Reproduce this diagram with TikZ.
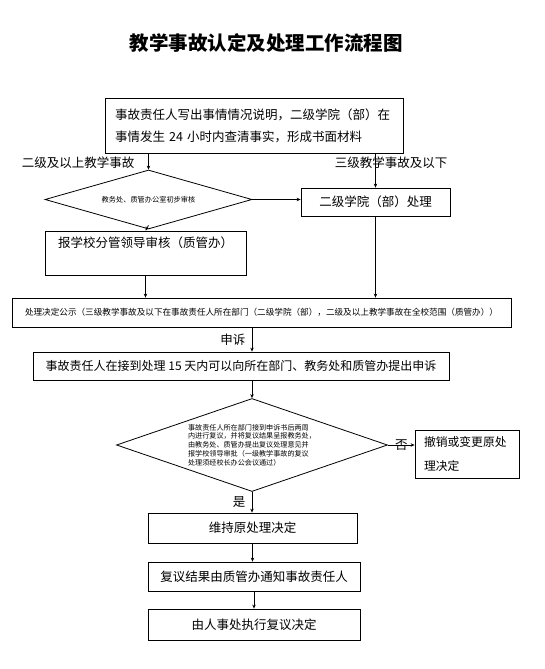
\documentclass[tikz,border=0pt]{standalone}
\usepackage{fontspec}
\setmainfont{Noto Sans CJK SC}
\usetikzlibrary{arrows.meta, shapes.geometric}

\begin{document}
\begin{tikzpicture}[x=1pt, y=-1pt, font=\fontsize{12.5}{22}\selectfont,
    box/.style={draw, line width=0.8pt, inner sep=0pt},
    choice/.style={draw, diamond, line width=0.8pt, inner sep=0pt},
    arr/.style={-{Stealth[length=4pt, width=3.5pt]}, line width=0.8pt}]
    \useasboundingbox (0,0) rectangle (545,669);

    % Title
    \node[font=\fontsize{19.5}{22}\selectfont\bfseries] (title) at (266,43) {教学事故认定及处理工作流程图};

    % Report
    \node[box, minimum width=298, minimum height=55, text width=278, align=left] (report) at (254,125.5)
        {事故责任人写出事情情况说明，二级学院（部）在\\事情发生 24 小时内查清事实，形成书面材料};
    \node (lvlhigh) at (78,163) {二级及以上教学事故};
    \node (lvllow) at (391,163) {三级教学事故及以下};

    % Two branches
    \node[choice, minimum width=207, minimum height=59, shape aspect=3.5, font=\fontsize{7.2}{8}\selectfont] (check) at (148.5,199.5) {教务处、质管办公室初步审核};
    \node[box, minimum width=149, minimum height=28] (college) at (375.5,202) {二级学院（部）处理};
    \node[box, minimum width=201, minimum height=44, align=center] (leader) at (145.5,253) {报学校分管领导审核（质管办）\\ \mbox{}};

    % Notice
    \node[box, minimum width=499, minimum height=29, font=\fontsize{8.6}{10}\selectfont] (notice) at (261.5,312.5)
        {处理决定公示（三级教学事故及以下在事故责任人所在部门（二级学院（部），二级及以上教学事故在全校范围（质管办））};

    % Appeal and review
    \node[box, minimum width=416, minimum height=28, font=\fontsize{12}{14}\selectfont] (appeal) at (241,366)
        {事故责任人在接到处理 15 天内可以向所在部门、教务处和质管办提出申诉};
    \node[choice, minimum width=271, minimum height=93, shape aspect=2.9, font=\fontsize{7.1}{8.8}\selectfont, align=left] (review) at (252,445)
        {事故责任人所在部门接到申诉书后两周\\内进行复议，并将复议结果呈报教务处，\\由教务处、质管办提出复议处理意见并\\报学校领导审批（一级教学事故的复议\\处理须经校长办公会议通过）};
    \node[box, minimum width=104, minimum height=48, text width=86, align=left, font=\fontsize{11.8}{24}\selectfont] (revoke) at (467,454) {撤销或变更原处\\理决定};

    % Outcome
    \node[box, minimum width=209, minimum height=30] (keep) at (252.5,528) {维持原处理决定};
    \node[box, minimum width=212, minimum height=29] (inform) at (254,576.5) {复议结果由质管办通知事故责任人};
    \node[box, minimum width=212, minimum height=31] (execute) at (254,624.5) {由人事处执行复议决定};

    % Connectors
    \draw[arr] (report.south -| check.north) -- (check.north);
    \draw[arr] (report.south -| college.north) -- (college.north);
    \draw[arr] (check.east) -- (check.east -| college.west);
    \draw[arr] ([yshift=4pt]check.south) -- (leader.north);
    \draw[arr] (leader.south) -- (leader.south |- notice.north);
    \draw[arr] (college.south) -- (college.south |- notice.north);
    \draw[arr] (notice.south -| review.north) -- node[left=3pt] {申诉} (review.north |- appeal.north);
    \draw[arr] (appeal.south -| review.north) -- (review.north);
    \draw[arr] (review.east) -- node {否} (review.east -| revoke.west);
    \draw[arr] (review.south) -- node[left=3pt] {是} (review.south |- keep.north);
    \draw[arr] (keep.south) -- (keep.south |- inform.north);
    \draw[arr] (inform.south) -- (inform.south |- execute.north);
\end{tikzpicture}
\end{document}
